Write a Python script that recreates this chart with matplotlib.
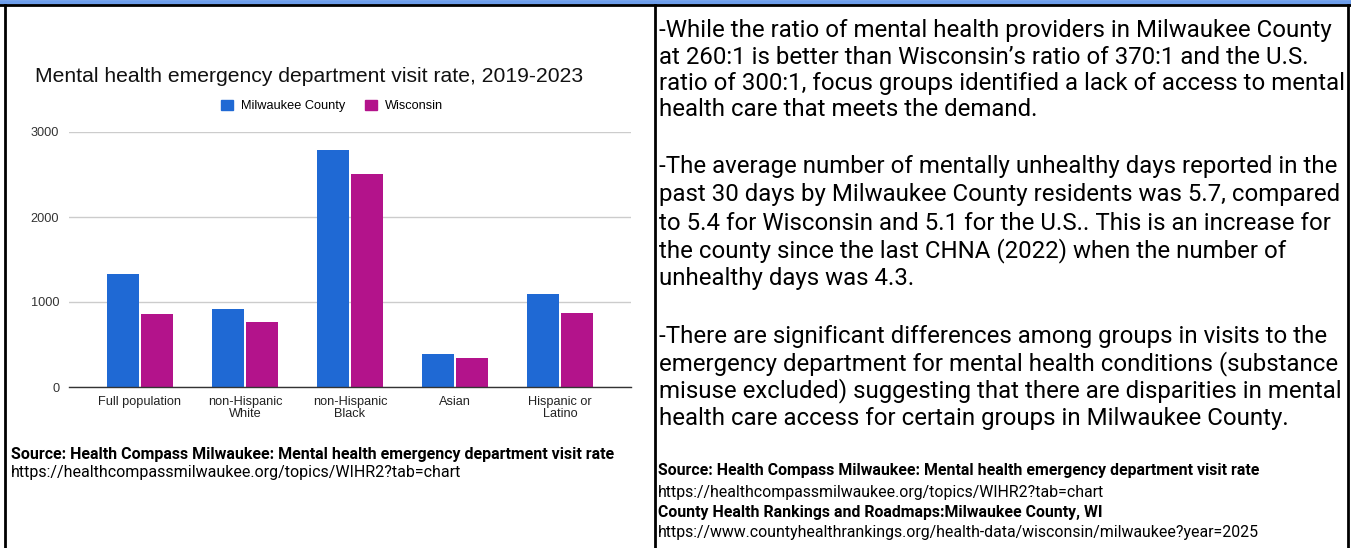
import matplotlib
matplotlib.use("Agg")
import matplotlib.pyplot as plt
from matplotlib.lines import Line2D
from matplotlib.patches import Patch

# data
groups = ["Full population", "non-Hispanic\nWhite", "non-Hispanic\nBlack", "Asian", "Hispanic or\nLatino"]
milwaukee = [1331, 922, 2788, 389, 1099]
wisconsin = [860, 766, 2505, 342, 874]
yticks = [0, 1000, 2000, 3000]

title = "Mental health emergency department visit rate, 2019-2023"
series_names = ["Milwaukee County", "Wisconsin"]
blue = "#1f69d4"
magenta = "#b3138b"

left_source = ["Source: Health Compass Milwaukee: Mental health emergency department visit rate",
               "https://healthcompassmilwaukee.org/topics/WIHR2?tab=chart"]

paragraphs = [
    ["-While the ratio of mental health providers in Milwaukee County",
     "at 260:1 is better than Wisconsin\u2019s ratio of 370:1 and the U.S.",
     "ratio of 300:1, focus groups identified a lack of access to mental",
     "health care that meets the demand."],
    ["-The average number of mentally unhealthy days reported in the",
     "past 30 days by Milwaukee County residents was 5.7, compared",
     "to 5.4 for Wisconsin and 5.1 for the U.S.. This is an increase for",
     "the county since the last CHNA (2022) when the number of",
     "unhealthy days was 4.3."],
    ["-There are significant differences among groups in visits to the",
     "emergency department for mental health conditions (substance",
     "misuse excluded) suggesting that there are disparities in mental",
     "health care access for certain groups in Milwaukee County."],
]
right_sources = [
    ("Source: Health Compass Milwaukee: Mental health emergency department visit rate", "bold"),
    ("https://healthcompassmilwaukee.org/topics/WIHR2?tab=chart", "normal"),
    ("County Health Rankings and Roadmaps:Milwaukee County, WI", "bold"),
    ("https://www.countyhealthrankings.org/health-data/wisconsin/milwaukee?year=2025", "normal"),
]

W, H = 1351, 548
fig = plt.figure(figsize=(W / 100, H / 100), dpi=100)


def fx(x):
    return x / W


def fy(y):
    return 1 - y / H


# table frame
fig.add_artist(Line2D([0, 1], [fy(2), fy(2)], color="#6d9eeb", lw=3.5))
fig.add_artist(Line2D([0, 1], [fy(5), fy(5)], color="black", lw=2))
for xv in [5, 655, 1348]:
    fig.add_artist(Line2D([fx(xv), fx(xv)], [fy(5), 0], color="black", lw=2))

# chart
ax = fig.add_axes([fx(69), fy(387), fx(631) - fx(69), fy(132) - fy(387)])
xs = list(range(len(groups)))
bw = 0.305
ax.bar([x - bw / 2 - 0.01 for x in xs], milwaukee, width=bw, color=blue, zorder=3)
ax.bar([x + bw / 2 + 0.01 for x in xs], wisconsin, width=bw, color=magenta, zorder=3)
ax.set_xlim(-0.676, 4.676)
ax.set_ylim(0, 3000)
ax.set_yticks(yticks)
ax.set_yticklabels([str(v) for v in yticks], fontsize=9.2, color="#333333", family="Liberation Sans")
ax.set_xticks(xs)
ax.set_xticklabels(groups, fontsize=9.2, color="#222222", family="Liberation Sans", linespacing=1.05)
ax.tick_params(length=0, pad=7)
ax.tick_params(axis="x", pad=6.5)
ax.grid(axis="y", color="#cccccc", lw=1, zorder=0)
for s in ["top", "right", "left"]:
    ax.spines[s].set_visible(False)
ax.spines["bottom"].set_color("#333333")
ax.spines["bottom"].set_linewidth(1)
ax.spines["bottom"].set_zorder(4)

fig.text(fx(35), fy(77), title, fontsize=15.2, family="Liberation Sans", color="#111111", va="center")
handles = [Patch(color=blue), Patch(color=magenta)]
fig.legend(handles, series_names, loc="center", bbox_to_anchor=(fx(332), fy(106)), ncol=2, frameon=False,
           prop={"family": "Liberation Sans", "size": 9.2}, handlelength=0.9, handleheight=0.9,
           handletextpad=0.6, columnspacing=1.6)

# left source
fig.text(fx(11), fy(454), left_source[0], fontsize=11.5, family="Roboto", weight="bold", va="center")
fig.text(fx(11), fy(473), left_source[1], fontsize=11.5, family="Roboto", va="center")

# right text
line_y = [[31, 57, 83, 109], [167, 195, 223, 251, 279], [337, 364, 391, 419]]
for para, ys in zip(paragraphs, line_y):
    for line, yv in zip(para, ys):
        fig.text(fx(659), fy(yv), line, fontsize=17.3, family="Roboto", va="center")

for (line, wt), yv in zip(right_sources, [471, 492, 512, 533]):
    fig.text(fx(658), fy(yv), line, fontsize=11.4, family="Roboto", weight=wt, va="center")

fig.savefig("out.png", dpi=100)
